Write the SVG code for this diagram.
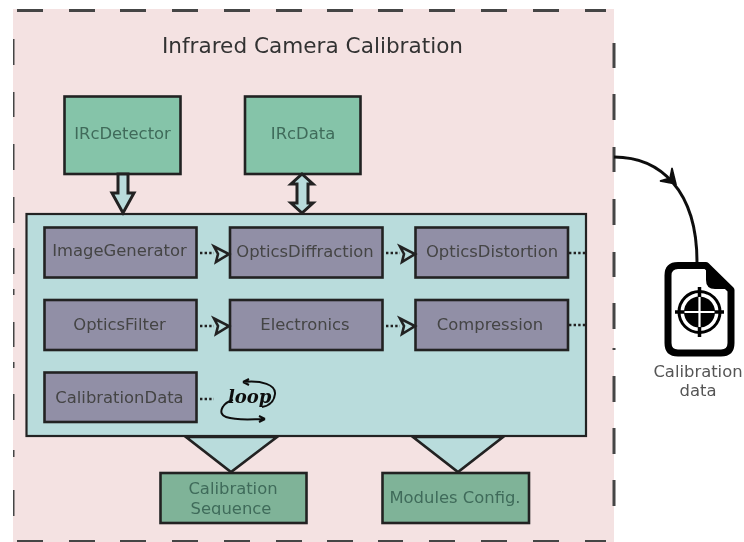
<svg xmlns="http://www.w3.org/2000/svg" width="744" height="542" viewBox="0 0 744 542">
<style>
.border{fill:none;stroke:#444;stroke-width:3}
.g1{fill:#85c4a9;stroke:#222;stroke-width:2.6}
.g2{fill:#7fb398;stroke:#222;stroke-width:2.6}
.m{fill:#918fa6;stroke:#222;stroke-width:2.6}
.c{fill:#b9dcdc;stroke:#222;stroke-width:2.2}
.t{font-family:"DejaVu Sans",sans-serif;font-size:16.4px;text-anchor:middle;fill:#444}
.n{fill:#3f6b5a}
.tri{fill:#b9dcdc;stroke:#222;stroke-width:2.6}
.dot{fill:none;stroke:#222;stroke-width:2.4;stroke-dasharray:2.4 2.2}
.oh{fill:none;stroke:#222;stroke-width:2.6}
.blk{fill:none;stroke:#111;stroke-width:2}
</style>
<defs>
<filter id="soft" x="0" y="0" width="100%" height="100%"><feGaussianBlur stdDeviation="0.55"/></filter>
<clipPath id="seq"><rect x="160" y="474" width="147" height="41"/></clipPath>
<path id="open" d="M-15 -7.500 L0 0 L-13 8 L-11 0 Z"/>
</defs>
<g filter="url(#soft)">
<rect id="bg" x="13" y="9" width="601" height="533" fill="#f4e2e2"/>
<g id="frame">
<path class="border" d="M17 10.500H43M69 10.500H95M120 10.500H146M172 10.500H198M224 10.500H250M276 10.500H302M327 10.500H353M378 10.500H403M429 10.500H455M481 10.500H507M533 10.500H559M585 10.500H606"/>
<path class="border" d="M17 541.500H43M69 541.500H95M120 541.500H146M172 541.500H198M224 541.500H250M276 541.500H302M327 541.500H353M378 541.500H403M429 541.500H455M481 541.500H507M533 541.500H559M585 541.500H606"/>
<path class="border" d="M13 39V65M13 92V117M13 144V170M13 197V223M13 248V274M13 289V295M13 322V347M13 362V368M13 394V420M13 450V457M13 490V516"/>
<path class="border" d="M614 43V68M614 94V120M614 147V172M614 199V225M614 252V277M614 303V329M614 348V350M614 376V402M614 428V454M614 480V506"/>
</g>
<text x="312.500" y="53" style="font-family:'DejaVu Sans',sans-serif;font-size:21.600px;text-anchor:middle;fill:#333">Infrared Camera Calibration</text>
<g id="triangles">
<path class="tri" d="M186 437L277 437L231 472Z"/>
<path class="tri" d="M413 437L503 437L458 472Z"/>
</g>
<g id="container"><rect class="c" x="26.500" y="214" width="559.500" height="222"/></g>
<g id="irc-detector"><rect class="g1" x="64.500" y="96.500" width="116" height="77.500"/><text class="t n" x="122.500" y="139">IRcDetector</text></g>
<g id="irc-data"><rect class="g1" x="245" y="96.500" width="115.500" height="77.500"/><text class="t n" x="303" y="139">IRcData</text></g>
<g id="image-generator"><rect class="m" x="44.500" y="227.500" width="152" height="50"/><text class="t" x="119.500" y="256">ImageGenerator</text></g>
<g id="optics-diffraction"><rect class="m" x="230" y="227.500" width="152.500" height="50"/><text class="t" x="305" y="257">OpticsDiffraction</text></g>
<g id="optics-distortion"><rect class="m" x="415.500" y="227.500" width="152.500" height="50"/><text class="t" x="492" y="257">OpticsDistortion</text></g>
<g id="optics-filter"><rect class="m" x="44.500" y="300" width="152" height="50"/><text class="t" x="119.500" y="330">OpticsFilter</text></g>
<g id="electronics"><rect class="m" x="230" y="300" width="152.500" height="50"/><text class="t" x="305" y="330">Electronics</text></g>
<g id="compression"><rect class="m" x="415.500" y="300" width="152.500" height="50"/><text class="t" x="490" y="330">Compression</text></g>
<g id="calibration-data"><rect class="m" x="44.500" y="372.500" width="152" height="49.500"/><text class="t" x="119.500" y="403">CalibrationData</text></g>
<g id="calibration-sequence"><rect class="g2" x="160.500" y="473" width="146" height="50"/><text class="t n" x="233" y="494">Calibration</text><text class="t n" x="231" y="514" clip-path="url(#seq)">Sequence</text></g>
<g id="modules-config"><rect class="g2" x="382.500" y="473" width="146.500" height="50"/><text class="t n" x="455" y="503">Modules Config.</text></g>
<g id="connectors">
<path d="M118 174H128V193H134L123 213L112 193H118Z" fill="#b9dcdc" stroke="#222" stroke-width="3"/>
<path d="M302 174L313 184H308V203H313L302 213L291 203H297V184H291Z" fill="#b9dcdc" stroke="#222" stroke-width="3"/>
<path class="dot" d="M200 253H214"/><use href="#open" x="229" y="254" class="oh"/>
<path class="dot" d="M386 253H400"/><use href="#open" x="415" y="254" class="oh"/>
<path class="dot" d="M569 253H586"/>
<path class="dot" d="M200 326H214"/><use href="#open" x="229" y="326" class="oh"/>
<path class="dot" d="M386 326H400"/><use href="#open" x="415" y="326" class="oh"/>
<path class="dot" d="M569 325H586"/>
<path class="dot" d="M200 399H214"/>
<path d="M614 157C660 157 697 190 697 262" fill="none" stroke="#111" stroke-width="3"/>
<path d="M660 181L676 184L672 168L670 178Z" fill="#111" stroke="#111" stroke-width="1.500"/>
</g>
<g id="loop">
<text x="228" y="403" style="font-family:'DejaVu Serif',serif;font-style:italic;font-weight:bold;font-size:18px;fill:#111">loop</text>
<path class="blk" d="M243 382C262 380 276 385 275 394C274 403 268 406 262 407M243 382L249 379M243 382L249 385"/>
<path class="blk" d="M233 400C222 403 217 414 226 417C238 421 252 419 265 419M265 419L259 416M265 419L259 422" stroke-linejoin="round"/>
</g>
<g id="calibration-file">
<path d="M678 265.500H706L731 290V343Q731 353 721 353H678Q668 353 668 343V275.500Q668 265.500 678 265.500Z" fill="#fff" stroke="#000" stroke-width="7" stroke-linejoin="round"/>
<path d="M707 266L729 288H715Q707 288 707 280Z" fill="#000" stroke="#000" stroke-width="2"/>
<circle cx="699.500" cy="312" r="20.500" fill="none" stroke="#000" stroke-width="3"/>
<circle cx="699.500" cy="312" r="15.500" fill="#000"/>
<path d="M699.500 287V337M675 312H724" stroke="#000" stroke-width="3.500" fill="none"/>
<path d="M699.500 297V327M684.500 312H714.500" stroke="#fff" stroke-width="2.200" fill="none"/>
<text class="t" x="698" y="377" style="fill:#555">Calibration</text>
<text class="t" x="698" y="396" style="fill:#555">data</text>
</g>
</g>
</svg>
